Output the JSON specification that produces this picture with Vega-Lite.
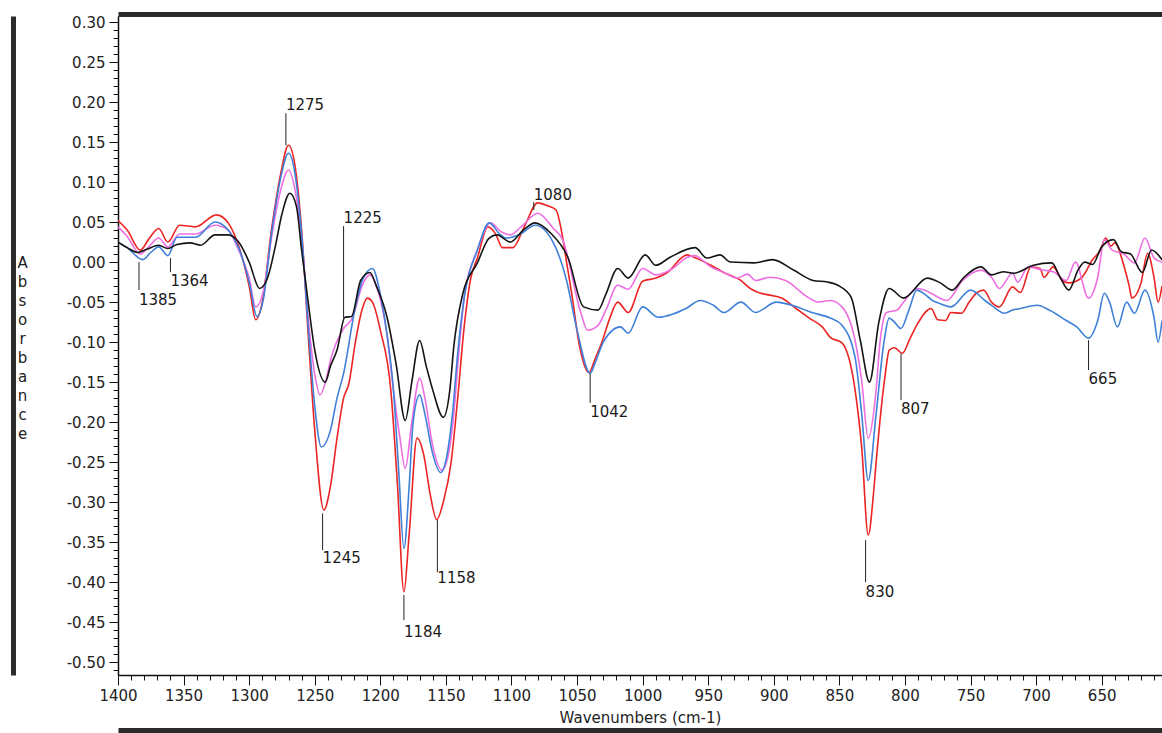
{
"$schema": "https://vega.github.io/schema/vega-lite/v6.json",
"width": 1044, "height": 659,
"autosize": "none",
"padding": {"left": 118, "top": 16, "right": 0, "bottom": 58},
"background": "white",
"config": {"view": {"stroke": null}, "axis": {"labelFont": "DejaVu Sans", "titleFont": "DejaVu Sans", "labelColor": "#222", "titleColor": "#222", "domainColor": "#111", "tickColor": "#111", "grid": false, "labelFlush": false}},
"datasets": {
"ann": [
{"t":"1385","wn":1384,"y1":0.0,"y2":-0.035,"ty":-0.0475},
{"t":"1364","wn":1360,"y1":0.005,"y2":-0.0125,"ty":-0.024},
{"t":"1275","wn":1272,"y1":0.146,"y2":0.186,"ty":0.196},
{"t":"1225","wn":1228,"y1":-0.07,"y2":0.045,"ty":0.055},
{"t":"1245","wn":1244,"y1":-0.314,"y2":-0.36,"ty":-0.37},
{"t":"1184","wn":1182,"y1":-0.416,"y2":-0.4475,"ty":-0.4625},
{"t":"1158","wn":1156.5,"y1":-0.3225,"y2":-0.3875,"ty":-0.395},
{"t":"1080","wn":1083,"y1":0.075,"y2":0.065,"ty":0.084},
{"t":"1042","wn":1040,"y1":-0.139,"y2":-0.176,"ty":-0.1875},
{"t":"830","wn":830,"y1":-0.3475,"y2":-0.40,"ty":-0.4125},
{"t":"807","wn":803,"y1":-0.114,"y2":-0.1725,"ty":-0.184},
{"t":"665","wn":660,"y1":-0.0975,"y2":-0.135,"ty":-0.146}
],
"spec": [
{"s":"red","wn":1400,"a":0.052},{"s":"red","wn":1393,"a":0.040},{"s":"red","wn":1383,"a":0.015},{"s":"red","wn":1376,"a":0.030},{"s":"red","wn":1369,"a":0.042},{"s":"red","wn":1362,"a":0.025},{"s":"red","wn":1353,"a":0.046},{"s":"red","wn":1341,"a":0.044},{"s":"red","wn":1325,"a":0.059},{"s":"red","wn":1316,"a":0.049},{"s":"red","wn":1308,"a":0.020},{"s":"red","wn":1300,"a":-0.030},{"s":"red","wn":1295,"a":-0.072},{"s":"red","wn":1290,"a":-0.050},{"s":"red","wn":1283,"a":0.040},{"s":"red","wn":1276,"a":0.110},{"s":"red","wn":1270,"a":0.146},{"s":"red","wn":1265,"a":0.120},{"s":"red","wn":1260,"a":0.040},{"s":"red","wn":1255,"a":-0.090},{"s":"red","wn":1250,"a":-0.210},{"s":"red","wn":1243,"a":-0.310},{"s":"red","wn":1238,"a":-0.280},{"s":"red","wn":1233,"a":-0.220},{"s":"red","wn":1228,"a":-0.170},{"s":"red","wn":1224,"a":-0.152},{"s":"red","wn":1219,"a":-0.100},{"s":"red","wn":1214,"a":-0.060},{"s":"red","wn":1210,"a":-0.045},{"s":"red","wn":1206,"a":-0.050},{"s":"red","wn":1200,"a":-0.085},{"s":"red","wn":1192,"a":-0.160},{"s":"red","wn":1187,"a":-0.276},{"s":"red","wn":1182,"a":-0.412},{"s":"red","wn":1178,"a":-0.340},{"s":"red","wn":1172,"a":-0.220},{"s":"red","wn":1167,"a":-0.240},{"s":"red","wn":1162,"a":-0.290},{"s":"red","wn":1157,"a":-0.322},{"s":"red","wn":1152,"a":-0.300},{"s":"red","wn":1146,"a":-0.250},{"s":"red","wn":1141,"a":-0.170},{"s":"red","wn":1136,"a":-0.080},{"s":"red","wn":1131,"a":-0.020},{"s":"red","wn":1126,"a":0.005},{"s":"red","wn":1118,"a":0.044},{"s":"red","wn":1112,"a":0.035},{"s":"red","wn":1107,"a":0.018},{"s":"red","wn":1099,"a":0.018},{"s":"red","wn":1090,"a":0.045},{"s":"red","wn":1080,"a":0.074},{"s":"red","wn":1072,"a":0.070},{"s":"red","wn":1066,"a":0.065},{"s":"red","wn":1062,"a":0.040},{"s":"red","wn":1058,"a":0.000},{"s":"red","wn":1054,"a":-0.040},{"s":"red","wn":1048,"a":-0.106},{"s":"red","wn":1041,"a":-0.138},{"s":"red","wn":1036,"a":-0.120},{"s":"red","wn":1031,"a":-0.100},{"s":"red","wn":1025,"a":-0.070},{"s":"red","wn":1019,"a":-0.050},{"s":"red","wn":1011,"a":-0.063},{"s":"red","wn":1000,"a":-0.024},{"s":"red","wn":990,"a":-0.020},{"s":"red","wn":982,"a":-0.014},{"s":"red","wn":966,"a":0.009},{"s":"red","wn":961,"a":0.006},{"s":"red","wn":958,"a":0.004},{"s":"red","wn":948,"a":-0.004},{"s":"red","wn":937,"a":-0.014},{"s":"red","wn":926,"a":-0.022},{"s":"red","wn":917,"a":-0.034},{"s":"red","wn":910,"a":-0.039},{"s":"red","wn":904,"a":-0.041},{"s":"red","wn":894,"a":-0.045},{"s":"red","wn":883,"a":-0.058},{"s":"red","wn":873,"a":-0.070},{"s":"red","wn":863,"a":-0.081},{"s":"red","wn":857,"a":-0.094},{"s":"red","wn":848,"a":-0.101},{"s":"red","wn":838,"a":-0.160},{"s":"red","wn":833,"a":-0.231},{"s":"red","wn":828,"a":-0.341},{"s":"red","wn":824,"a":-0.290},{"s":"red","wn":822,"a":-0.251},{"s":"red","wn":815,"a":-0.140},{"s":"red","wn":812,"a":-0.110},{"s":"red","wn":808,"a":-0.107},{"s":"red","wn":802,"a":-0.114},{"s":"red","wn":796,"a":-0.095},{"s":"red","wn":790,"a":-0.076},{"s":"red","wn":780,"a":-0.058},{"s":"red","wn":775,"a":-0.072},{"s":"red","wn":769,"a":-0.073},{"s":"red","wn":765,"a":-0.063},{"s":"red","wn":757,"a":-0.064},{"s":"red","wn":751,"a":-0.050},{"s":"red","wn":745,"a":-0.038},{"s":"red","wn":740,"a":-0.035},{"s":"red","wn":734,"a":-0.050},{"s":"red","wn":728,"a":-0.056},{"s":"red","wn":718,"a":-0.031},{"s":"red","wn":712,"a":-0.038},{"s":"red","wn":704,"a":-0.006},{"s":"red","wn":697,"a":-0.008},{"s":"red","wn":694,"a":-0.019},{"s":"red","wn":687,"a":-0.006},{"s":"red","wn":680,"a":-0.023},{"s":"red","wn":675,"a":-0.026},{"s":"red","wn":665,"a":-0.019},{"s":"red","wn":657,"a":0.003},{"s":"red","wn":651,"a":0.015},{"s":"red","wn":647,"a":0.030},{"s":"red","wn":643,"a":0.020},{"s":"red","wn":640,"a":0.024},{"s":"red","wn":633,"a":-0.005},{"s":"red","wn":629,"a":-0.030},{"s":"red","wn":627,"a":-0.045},{"s":"red","wn":620,"a":-0.026},{"s":"red","wn":615,"a":0.011},{"s":"red","wn":610,"a":-0.020},{"s":"red","wn":607,"a":-0.050},{"s":"red","wn":604,"a":-0.030},

{"s":"pink","wn":1400,"a":0.044},{"s":"pink","wn":1393,"a":0.032},{"s":"pink","wn":1383,"a":0.010},{"s":"pink","wn":1376,"a":0.020},{"s":"pink","wn":1369,"a":0.030},{"s":"pink","wn":1362,"a":0.019},{"s":"pink","wn":1353,"a":0.035},{"s":"pink","wn":1341,"a":0.035},{"s":"pink","wn":1326,"a":0.046},{"s":"pink","wn":1316,"a":0.040},{"s":"pink","wn":1308,"a":0.015},{"s":"pink","wn":1300,"a":-0.020},{"s":"pink","wn":1295,"a":-0.056},{"s":"pink","wn":1289,"a":-0.035},{"s":"pink","wn":1283,"a":0.030},{"s":"pink","wn":1276,"a":0.090},{"s":"pink","wn":1270,"a":0.115},{"s":"pink","wn":1265,"a":0.090},{"s":"pink","wn":1260,"a":0.030},{"s":"pink","wn":1255,"a":-0.070},{"s":"pink","wn":1250,"a":-0.140},{"s":"pink","wn":1246,"a":-0.166},{"s":"pink","wn":1241,"a":-0.145},{"s":"pink","wn":1238,"a":-0.123},{"s":"pink","wn":1228,"a":-0.083},{"s":"pink","wn":1221,"a":-0.069},{"s":"pink","wn":1214,"a":-0.030},{"s":"pink","wn":1208,"a":-0.016},{"s":"pink","wn":1202,"a":-0.035},{"s":"pink","wn":1195,"a":-0.090},{"s":"pink","wn":1190,"a":-0.160},{"s":"pink","wn":1185,"a":-0.220},{"s":"pink","wn":1181,"a":-0.258},{"s":"pink","wn":1176,"a":-0.200},{"s":"pink","wn":1170,"a":-0.145},{"s":"pink","wn":1166,"a":-0.170},{"s":"pink","wn":1160,"a":-0.230},{"s":"pink","wn":1153,"a":-0.260},{"s":"pink","wn":1148,"a":-0.240},{"s":"pink","wn":1144,"a":-0.190},{"s":"pink","wn":1140,"a":-0.110},{"s":"pink","wn":1136,"a":-0.044},{"s":"pink","wn":1126,"a":0.015},{"s":"pink","wn":1116,"a":0.049},{"s":"pink","wn":1108,"a":0.038},{"s":"pink","wn":1101,"a":0.034},{"s":"pink","wn":1092,"a":0.045},{"s":"pink","wn":1080,"a":0.061},{"s":"pink","wn":1068,"a":0.042},{"s":"pink","wn":1061,"a":0.028},{"s":"pink","wn":1047,"a":-0.064},{"s":"pink","wn":1042,"a":-0.085},{"s":"pink","wn":1034,"a":-0.079},{"s":"pink","wn":1028,"a":-0.060},{"s":"pink","wn":1019,"a":-0.029},{"s":"pink","wn":1011,"a":-0.034},{"s":"pink","wn":1000,"a":-0.008},{"s":"pink","wn":990,"a":-0.016},{"s":"pink","wn":977,"a":-0.008},{"s":"pink","wn":966,"a":0.006},{"s":"pink","wn":960,"a":0.008},{"s":"pink","wn":955,"a":0.003},{"s":"pink","wn":948,"a":-0.006},{"s":"pink","wn":938,"a":-0.013},{"s":"pink","wn":928,"a":-0.020},{"s":"pink","wn":920,"a":-0.015},{"s":"pink","wn":914,"a":-0.023},{"s":"pink","wn":903,"a":-0.019},{"s":"pink","wn":891,"a":-0.023},{"s":"pink","wn":874,"a":-0.044},{"s":"pink","wn":866,"a":-0.050},{"s":"pink","wn":857,"a":-0.048},{"s":"pink","wn":848,"a":-0.056},{"s":"pink","wn":838,"a":-0.098},{"s":"pink","wn":833,"a":-0.148},{"s":"pink","wn":828,"a":-0.220},{"s":"pink","wn":822,"a":-0.160},{"s":"pink","wn":819,"a":-0.100},{"s":"pink","wn":814,"a":-0.063},{"s":"pink","wn":806,"a":-0.060},{"s":"pink","wn":801,"a":-0.050},{"s":"pink","wn":791,"a":-0.033},{"s":"pink","wn":785,"a":-0.035},{"s":"pink","wn":779,"a":-0.040},{"s":"pink","wn":768,"a":-0.048},{"s":"pink","wn":756,"a":-0.023},{"s":"pink","wn":742,"a":-0.010},{"s":"pink","wn":734,"a":-0.019},{"s":"pink","wn":728,"a":-0.033},{"s":"pink","wn":718,"a":-0.014},{"s":"pink","wn":714,"a":-0.025},{"s":"pink","wn":706,"a":-0.006},{"s":"pink","wn":695,"a":-0.010},{"s":"pink","wn":687,"a":-0.012},{"s":"pink","wn":677,"a":-0.023},{"s":"pink","wn":670,"a":0.000},{"s":"pink","wn":660,"a":-0.045},{"s":"pink","wn":653,"a":-0.019},{"s":"pink","wn":648,"a":0.028},{"s":"pink","wn":642,"a":0.015},{"s":"pink","wn":633,"a":0.010},{"s":"pink","wn":625,"a":-0.001},{"s":"pink","wn":617,"a":0.030},{"s":"pink","wn":610,"a":0.005},{"s":"pink","wn":604,"a":0.000},

{"s":"blue","wn":1400,"a":0.025},{"s":"blue","wn":1393,"a":0.018},{"s":"blue","wn":1381,"a":0.003},{"s":"blue","wn":1375,"a":0.012},{"s":"blue","wn":1369,"a":0.019},{"s":"blue","wn":1362,"a":0.008},{"s":"blue","wn":1355,"a":0.031},{"s":"blue","wn":1341,"a":0.031},{"s":"blue","wn":1326,"a":0.050},{"s":"blue","wn":1316,"a":0.040},{"s":"blue","wn":1308,"a":0.018},{"s":"blue","wn":1300,"a":-0.025},{"s":"blue","wn":1294,"a":-0.068},{"s":"blue","wn":1289,"a":-0.045},{"s":"blue","wn":1283,"a":0.035},{"s":"blue","wn":1276,"a":0.105},{"s":"blue","wn":1270,"a":0.136},{"s":"blue","wn":1265,"a":0.110},{"s":"blue","wn":1260,"a":0.035},{"s":"blue","wn":1255,"a":-0.080},{"s":"blue","wn":1250,"a":-0.180},{"s":"blue","wn":1245,"a":-0.231},{"s":"blue","wn":1238,"a":-0.210},{"s":"blue","wn":1233,"a":-0.170},{"s":"blue","wn":1228,"a":-0.139},{"s":"blue","wn":1219,"a":-0.056},{"s":"blue","wn":1213,"a":-0.020},{"s":"blue","wn":1206,"a":-0.008},{"s":"blue","wn":1200,"a":-0.040},{"s":"blue","wn":1195,"a":-0.089},{"s":"blue","wn":1190,"a":-0.160},{"s":"blue","wn":1186,"a":-0.260},{"s":"blue","wn":1182,"a":-0.358},{"s":"blue","wn":1178,"a":-0.280},{"s":"blue","wn":1175,"a":-0.200},{"s":"blue","wn":1170,"a":-0.166},{"s":"blue","wn":1166,"a":-0.190},{"s":"blue","wn":1160,"a":-0.240},{"s":"blue","wn":1154,"a":-0.263},{"s":"blue","wn":1149,"a":-0.240},{"s":"blue","wn":1145,"a":-0.190},{"s":"blue","wn":1141,"a":-0.114},{"s":"blue","wn":1136,"a":-0.044},{"s":"blue","wn":1126,"a":0.015},{"s":"blue","wn":1117,"a":0.049},{"s":"blue","wn":1109,"a":0.035},{"s":"blue","wn":1104,"a":0.030},{"s":"blue","wn":1093,"a":0.035},{"s":"blue","wn":1082,"a":0.046},{"s":"blue","wn":1068,"a":0.024},{"s":"blue","wn":1058,"a":-0.023},{"s":"blue","wn":1050,"a":-0.085},{"s":"blue","wn":1040,"a":-0.139},{"s":"blue","wn":1036,"a":-0.125},{"s":"blue","wn":1030,"a":-0.100},{"s":"blue","wn":1017,"a":-0.081},{"s":"blue","wn":1011,"a":-0.089},{"s":"blue","wn":1000,"a":-0.056},{"s":"blue","wn":988,"a":-0.069},{"s":"blue","wn":977,"a":-0.065},{"s":"blue","wn":967,"a":-0.058},{"s":"blue","wn":956,"a":-0.048},{"s":"blue","wn":946,"a":-0.054},{"s":"blue","wn":938,"a":-0.063},{"s":"blue","wn":925,"a":-0.050},{"s":"blue","wn":914,"a":-0.063},{"s":"blue","wn":898,"a":-0.050},{"s":"blue","wn":886,"a":-0.054},{"s":"blue","wn":871,"a":-0.063},{"s":"blue","wn":857,"a":-0.070},{"s":"blue","wn":848,"a":-0.079},{"s":"blue","wn":838,"a":-0.119},{"s":"blue","wn":833,"a":-0.189},{"s":"blue","wn":828,"a":-0.273},{"s":"blue","wn":822,"a":-0.190},{"s":"blue","wn":816,"a":-0.100},{"s":"blue","wn":812,"a":-0.070},{"s":"blue","wn":808,"a":-0.075},{"s":"blue","wn":803,"a":-0.083},{"s":"blue","wn":797,"a":-0.060},{"s":"blue","wn":791,"a":-0.035},{"s":"blue","wn":785,"a":-0.040},{"s":"blue","wn":779,"a":-0.048},{"s":"blue","wn":773,"a":-0.052},{"s":"blue","wn":765,"a":-0.056},{"s":"blue","wn":750,"a":-0.035},{"s":"blue","wn":739,"a":-0.048},{"s":"blue","wn":734,"a":-0.054},{"s":"blue","wn":724,"a":-0.064},{"s":"blue","wn":718,"a":-0.060},{"s":"blue","wn":712,"a":-0.058},{"s":"blue","wn":699,"a":-0.054},{"s":"blue","wn":690,"a":-0.060},{"s":"blue","wn":677,"a":-0.073},{"s":"blue","wn":669,"a":-0.081},{"s":"blue","wn":660,"a":-0.095},{"s":"blue","wn":653,"a":-0.073},{"s":"blue","wn":648,"a":-0.039},{"s":"blue","wn":644,"a":-0.050},{"s":"blue","wn":638,"a":-0.081},{"s":"blue","wn":631,"a":-0.050},{"s":"blue","wn":625,"a":-0.064},{"s":"blue","wn":617,"a":-0.035},{"s":"blue","wn":610,"a":-0.070},{"s":"blue","wn":607,"a":-0.100},{"s":"blue","wn":604,"a":-0.073},

{"s":"black","wn":1400,"a":0.025},{"s":"black","wn":1393,"a":0.018},{"s":"black","wn":1385,"a":0.012},{"s":"black","wn":1378,"a":0.016},{"s":"black","wn":1369,"a":0.021},{"s":"black","wn":1362,"a":0.017},{"s":"black","wn":1355,"a":0.022},{"s":"black","wn":1345,"a":0.024},{"s":"black","wn":1337,"a":0.021},{"s":"black","wn":1326,"a":0.034},{"s":"black","wn":1316,"a":0.034},{"s":"black","wn":1308,"a":0.025},{"s":"black","wn":1300,"a":0.000},{"s":"black","wn":1292,"a":-0.033},{"s":"black","wn":1286,"a":-0.020},{"s":"black","wn":1280,"a":0.020},{"s":"black","wn":1275,"a":0.060},{"s":"black","wn":1269,"a":0.086},{"s":"black","wn":1264,"a":0.070},{"s":"black","wn":1260,"a":0.015},{"s":"black","wn":1255,"a":-0.050},{"s":"black","wn":1250,"a":-0.110},{"s":"black","wn":1242,"a":-0.150},{"s":"black","wn":1238,"a":-0.130},{"s":"black","wn":1233,"a":-0.110},{"s":"black","wn":1227,"a":-0.069},{"s":"black","wn":1222,"a":-0.068},{"s":"black","wn":1215,"a":-0.023},{"s":"black","wn":1208,"a":-0.013},{"s":"black","wn":1203,"a":-0.030},{"s":"black","wn":1195,"a":-0.068},{"s":"black","wn":1188,"a":-0.127},{"s":"black","wn":1181,"a":-0.198},{"s":"black","wn":1176,"a":-0.150},{"s":"black","wn":1170,"a":-0.098},{"s":"black","wn":1165,"a":-0.130},{"s":"black","wn":1160,"a":-0.160},{"s":"black","wn":1152,"a":-0.194},{"s":"black","wn":1147,"a":-0.160},{"s":"black","wn":1144,"a":-0.106},{"s":"black","wn":1137,"a":-0.039},{"s":"black","wn":1126,"a":-0.001},{"s":"black","wn":1117,"a":0.030},{"s":"black","wn":1111,"a":0.034},{"s":"black","wn":1101,"a":0.025},{"s":"black","wn":1091,"a":0.040},{"s":"black","wn":1082,"a":0.049},{"s":"black","wn":1070,"a":0.036},{"s":"black","wn":1057,"a":0.006},{"s":"black","wn":1045,"a":-0.056},{"s":"black","wn":1034,"a":-0.060},{"s":"black","wn":1028,"a":-0.040},{"s":"black","wn":1019,"a":-0.008},{"s":"black","wn":1011,"a":-0.020},{"s":"black","wn":998,"a":0.009},{"s":"black","wn":990,"a":-0.004},{"s":"black","wn":979,"a":0.006},{"s":"black","wn":960,"a":0.018},{"s":"black","wn":951,"a":0.005},{"s":"black","wn":941,"a":0.009},{"s":"black","wn":933,"a":0.000},{"s":"black","wn":915,"a":-0.001},{"s":"black","wn":901,"a":0.003},{"s":"black","wn":885,"a":-0.010},{"s":"black","wn":870,"a":-0.023},{"s":"black","wn":859,"a":-0.025},{"s":"black","wn":850,"a":-0.030},{"s":"black","wn":841,"a":-0.044},{"s":"black","wn":834,"a":-0.098},{"s":"black","wn":827,"a":-0.150},{"s":"black","wn":820,"a":-0.076},{"s":"black","wn":812,"a":-0.033},{"s":"black","wn":801,"a":-0.045},{"s":"black","wn":783,"a":-0.020},{"s":"black","wn":773,"a":-0.026},{"s":"black","wn":764,"a":-0.035},{"s":"black","wn":755,"a":-0.019},{"s":"black","wn":742,"a":-0.006},{"s":"black","wn":734,"a":-0.016},{"s":"black","wn":725,"a":-0.012},{"s":"black","wn":717,"a":-0.014},{"s":"black","wn":702,"a":-0.004},{"s":"black","wn":688,"a":-0.001},{"s":"black","wn":682,"a":-0.018},{"s":"black","wn":675,"a":-0.035},{"s":"black","wn":668,"a":-0.010},{"s":"black","wn":663,"a":0.000},{"s":"black","wn":657,"a":-0.003},{"s":"black","wn":650,"a":0.019},{"s":"black","wn":641,"a":0.028},{"s":"black","wn":635,"a":0.013},{"s":"black","wn":628,"a":0.010},{"s":"black","wn":619,"a":-0.013},{"s":"black","wn":612,"a":0.015},{"s":"black","wn":604,"a":0.003}
]
},
"resolve": {"axis": {"x": "independent", "y": "independent"}},
"layer": [
{
"data": {"name": "spec"},
"mark": {"type": "line", "strokeWidth": 1.6, "interpolate": "monotone", "clip": true},
"encoding": {
"x": {"field": "wn", "type": "quantitative", "scale": {"domain": [604, 1400], "reverse": true, "nice": false, "zero": false},
"axis": {"orient": "bottom", "values": [1400,1350,1300,1250,1200,1150,1100,1050,1000,950,900,850,800,750,700,650], "format": "d", "tickSize": 10, "labelPadding": 3, "labelFontSize": 15, "labelFlush": false, "labelOverlap": false, "domainWidth": 1.5, "title": "Wavenumbers (cm-1)", "titleFontSize": 15, "titleFontWeight": "normal", "titlePadding": 7}},
"y": {"field": "a", "type": "quantitative", "scale": {"domain": [-0.516, 0.3075], "nice": false, "zero": false},
"axis": {"orient": "left", "values": [-0.5,-0.45,-0.4,-0.35,-0.3,-0.25,-0.2,-0.15,-0.1,-0.05,0,0.05,0.1,0.15,0.2,0.25,0.3], "labelExpr": "replace(format(datum.value, '.2f'), '−', '-')", "tickSize": 9, "labelPadding": 4, "labelFontSize": 15, "labelFlush": false, "labelOverlap": false, "domainWidth": 1.5,
"title": ["A","b","s","o","r","b","a","n","c","e"], "titleAngle": 0, "titleFontSize": 15, "titleFontWeight": "normal", "titleLineHeight": 19, "titleX": -96, "titleY": 246, "titleAlign": "center", "titleBaseline": "middle"}},
"color": {"field": "s", "type": "nominal", "scale": {"domain": ["red","pink","blue","black"], "range": ["#ec2424","#ee6ee2","#3f80d8","#141414"]}, "legend": null},
"order": {"field": "wn", "type": "quantitative"}
}
},
{
"data": {"name": "ann"},
"mark": {"type": "rule", "color": "#222", "strokeWidth": 1},
"encoding": {
"x": {"field": "wn", "type": "quantitative", "scale": {"domain": [604, 1400], "reverse": true, "nice": false, "zero": false},
"axis": {"orient": "bottom", "values": [610,620,630,640,650,660,670,680,690,700,710,720,730,740,750,760,770,780,790,800,810,820,830,840,850,860,870,880,890,900,910,920,930,940,950,960,970,980,990,1000,1010,1020,1030,1040,1050,1060,1070,1080,1090,1100,1110,1120,1130,1140,1150,1160,1170,1180,1190,1200,1210,1220,1230,1240,1250,1260,1270,1280,1290,1300,1310,1320,1330,1340,1350,1360,1370,1380,1390,1400], "labels": false, "domain": false, "tickSize": 5, "title": null}},
"y": {"field": "y1", "type": "quantitative", "scale": {"domain": [-0.516, 0.3075], "nice": false, "zero": false},
"axis": {"orient": "left", "values": [-0.51,-0.5,-0.49,-0.48,-0.47,-0.46,-0.45,-0.44,-0.43,-0.42,-0.41,-0.4,-0.39,-0.38,-0.37,-0.36,-0.35,-0.34,-0.33,-0.32,-0.31,-0.3,-0.29,-0.28,-0.27,-0.26,-0.25,-0.24,-0.23,-0.22,-0.21,-0.2,-0.19,-0.18,-0.17,-0.16,-0.15,-0.14,-0.13,-0.12,-0.11,-0.1,-0.09,-0.08,-0.07,-0.06,-0.05,-0.04,-0.03,-0.02,-0.01,0,0.01,0.02,0.03,0.04,0.05,0.06,0.07,0.08,0.09,0.1,0.11,0.12,0.13,0.14,0.15,0.16,0.17,0.18,0.19,0.2,0.21,0.22,0.23,0.24,0.25,0.26,0.27,0.28,0.29,0.3], "labels": false, "domain": false, "tickSize": 5, "title": null}},
"y2": {"field": "y2"}
}
},
{
"data": {"name": "ann"},
"mark": {"type": "text", "align": "left", "baseline": "middle", "font": "DejaVu Sans", "fontSize": 15, "color": "#1a1a1a", "dx": 0},
"encoding": {
"x": {"field": "wn", "type": "quantitative", "scale": {"domain": [604, 1400], "reverse": true, "nice": false, "zero": false},
"axis": {"orient": "top", "labels": false, "ticks": false, "domainWidth": 5, "domainColor": "#2b2b2b", "offset": 2, "title": null}},
"y": {"field": "ty", "type": "quantitative", "scale": {"domain": [-0.516, 0.3075], "nice": false, "zero": false},
"axis": {"orient": "left", "labels": false, "ticks": false, "domainWidth": 5, "domainColor": "#2b2b2b", "offset": 105, "title": null}},
"text": {"field": "t"}
}
},
{
"data": {"name": "ann"},
"mark": {"type": "point", "opacity": 0},
"encoding": {
"x": {"field": "wn", "type": "quantitative", "scale": {"domain": [604, 1400], "reverse": true, "nice": false, "zero": false},
"axis": {"orient": "bottom", "labels": false, "ticks": false, "domainWidth": 5, "domainColor": "#2b2b2b", "offset": 55, "title": null}},
"y": {"field": "ty", "type": "quantitative", "scale": {"domain": [-0.516, 0.3075], "nice": false, "zero": false}, "axis": null}
}
}
]
}
